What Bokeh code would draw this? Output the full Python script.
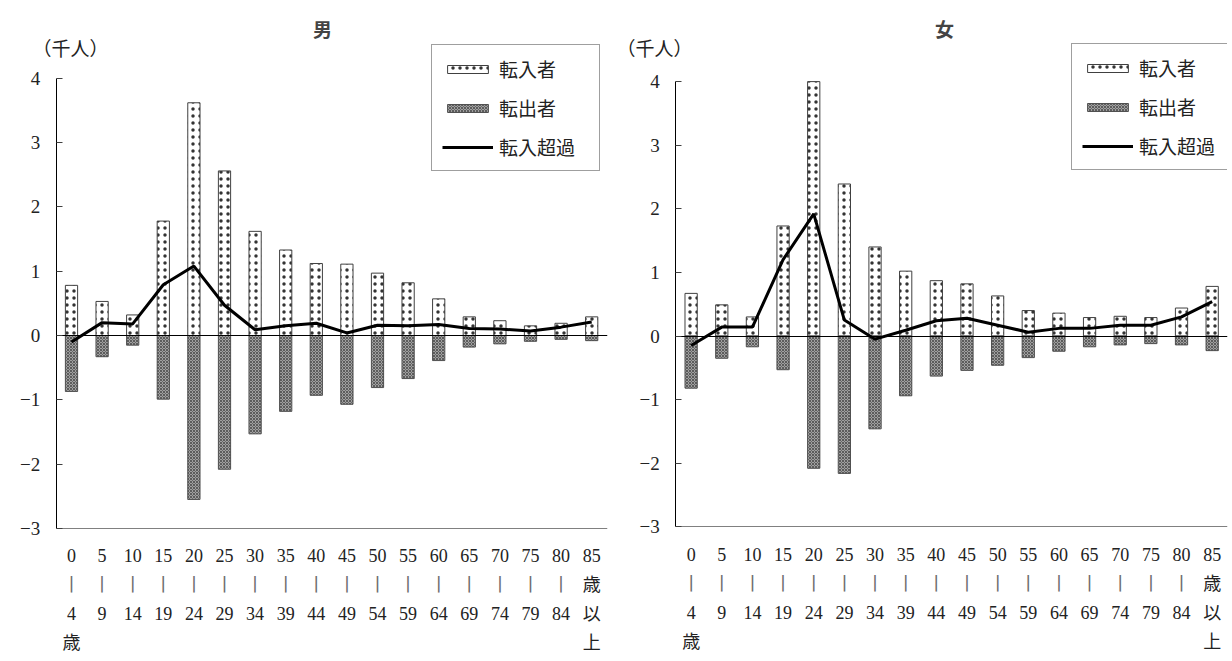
from bokeh.plotting import figure
from bokeh.models import (ColumnDataSource, Range1d, FixedTicker, LinearAxis,
                          Label, Legend, LegendItem)
from bokeh.layouts import row
from bokeh.embed import file_html
from bokeh.resources import INLINE

# Age groups (five-year classes), written as stacked tick labels
age_labels = [
    "0\n丨\n4\n歳", "5\n丨\n9", "10\n丨\n14", "15\n丨\n19", "20\n丨\n24", "25\n丨\n29",
    "30\n丨\n34", "35\n丨\n39", "40\n丨\n44", "45\n丨\n49", "50\n丨\n54", "55\n丨\n59",
    "60\n丨\n64", "65\n丨\n69", "70\n丨\n74", "75\n丨\n79", "80\n丨\n84", "85\n歳\n以\n上",
]
y_ticks = [-3, -2, -1, 0, 1, 2, 3, 4]

# Male (thousand persons)
male_in = [0.78, 0.53, 0.32, 1.78, 3.62, 2.56, 1.62, 1.33, 1.12, 1.11, 0.97, 0.82,
           0.57, 0.29, 0.23, 0.15, 0.19, 0.29]
male_out = [-0.87, -0.33, -0.15, -0.99, -2.55, -2.08, -1.53, -1.18, -0.93, -1.07, -0.81, -0.67,
            -0.39, -0.18, -0.13, -0.09, -0.06, -0.08]
male_net = [-0.10, 0.20, 0.18, 0.79, 1.08, 0.47, 0.09, 0.15, 0.19, 0.04, 0.16, 0.15,
            0.17, 0.11, 0.10, 0.07, 0.13, 0.21]

# Female (thousand persons)
female_in = [0.67, 0.49, 0.30, 1.73, 4.00, 2.39, 1.40, 1.02, 0.87, 0.82, 0.63, 0.40,
             0.36, 0.29, 0.31, 0.29, 0.44, 0.78]
female_out = [-0.82, -0.35, -0.17, -0.53, -2.08, -2.16, -1.46, -0.94, -0.63, -0.54, -0.46, -0.34,
              -0.24, -0.17, -0.14, -0.12, -0.14, -0.23]
female_net = [-0.15, 0.14, 0.14, 1.20, 1.92, 0.25, -0.05, 0.09, 0.24, 0.28, 0.17, 0.06,
              0.12, 0.12, 0.17, 0.17, 0.30, 0.54]

SERIF = "'Liberation Serif', 'Noto Sans CJK JP'"
SANS = "Noto Sans CJK JP"
H = 661
FRAME_TOP = 10   # the frame spans nearly the whole figure; axis lines are bounded
N = len(age_labels)
pos = list(range(N))
SEP = "丨"
BLANK = "\u3000"

# the range separators are drawn in grey by a second axis, the rest in dark text
text_labels = {i: s.replace(SEP, BLANK) for i, s in zip(pos, age_labels)}
sep_labels = {i: (BLANK + "\n" + SEP if SEP in s else BLANK) for i, s in zip(pos, age_labels)}


def style_age_axis(ax, color):
    ax.major_tick_line_color = None
    ax.minor_tick_line_color = None
    ax.major_label_standoff = 12
    ax.major_label_text_font = SERIF
    ax.major_label_text_font_size = "18px"
    ax.major_label_text_line_height = 1.45
    ax.major_label_text_color = color


def make_panel(title, vin, vout, vnet, right, cat_left_px, cat_w, zero_px, unit_px,
               legend_xy, title_x, unit_x):
    # axes are pinned inside the frame: the value axis at the left edge of the
    # first age class, the age axis at -3
    y_top = (zero_px - FRAME_TOP) / unit_px
    y_bottom = -(H - zero_px) / unit_px
    frame_w = 616 - right
    x_start = -0.5 - cat_left_px / cat_w
    x_end = x_start + frame_w / cat_w

    src = ColumnDataSource(dict(x=pos, vin=vin, vout=vout, vnet=vnet))
    p = figure(width=616, height=H, x_range=Range1d(x_start, x_end),
               y_range=Range1d(y_bottom, y_top), output_backend="svg", toolbar_location=None,
               x_axis_type=None, y_axis_type=None,
               min_border_left=0, min_border_right=right, min_border_top=FRAME_TOP,
               min_border_bottom=0)
    p.background_fill_color = "white"
    p.border_fill_color = "white"
    p.outline_line_color = None
    p.grid.grid_line_color = None

    r_in = p.vbar(x="x", top="vin", bottom=0, width=0.4, source=src,
                  fill_color="white", line_color="#404040", line_width=1,
                  hatch_pattern="dot", hatch_scale=7, hatch_color="#333333", hatch_weight=1)
    r_out = p.vbar(x="x", top=0, bottom="vout", width=0.4, source=src,
                   fill_color="#a0a0a0", line_color="#505050", line_width=1,
                   hatch_pattern="diagonal_cross", hatch_scale=3, hatch_color="#5c5c5c",
                   hatch_weight=1)

    # value axis
    yax = LinearAxis(ticker=FixedTicker(ticks=y_ticks), bounds=(-3, 4),
                     fixed_location=-0.5)
    yax.major_tick_in = 6
    yax.major_tick_out = 0
    yax.minor_tick_line_color = None
    yax.axis_line_color = "black"
    yax.major_tick_line_color = "#404040"
    yax.major_label_standoff = 16
    yax.major_label_text_font = SERIF
    yax.major_label_text_font_size = "19px"
    yax.major_label_text_color = "#222222"
    p.add_layout(yax, "left")

    # age axis along -3
    xax = LinearAxis(ticker=FixedTicker(ticks=pos), bounds=(-0.5, N - 0.5), fixed_location=-3,
                     major_label_overrides=text_labels)
    style_age_axis(xax, "#222222")
    xax.axis_line_color = "#808080"
    p.add_layout(xax, "below")

    sax = LinearAxis(ticker=FixedTicker(ticks=pos), bounds=(-0.5, N - 0.5), fixed_location=-3,
                     major_label_overrides=sep_labels)
    style_age_axis(sax, "#6e6e6e")
    sax.axis_line_color = None
    p.add_layout(sax, "below")

    # zero line across the age classes
    zax = LinearAxis(ticker=FixedTicker(ticks=[]), bounds=(-0.5, N - 0.5), fixed_location=0)
    zax.major_tick_line_color = None
    zax.minor_tick_line_color = None
    zax.major_label_text_font_size = "0px"
    zax.axis_line_color = "black"
    zax.axis_line_width = 1
    p.add_layout(zax, "below")

    r_net = p.line(x="x", y="vnet", source=src, line_color="black", line_width=3)

    p.add_layout(Label(x=title_x, y=(zero_px - 28) / unit_px, x_units="screen",
                       text=title, text_align="center", text_baseline="middle",
                       text_font=SANS, text_font_style="bold", text_font_size="19px"))
    p.add_layout(Label(x=unit_x, y=(zero_px - 47) / unit_px, x_units="screen",
                       text="（千人）", text_align="left", text_baseline="middle",
                       text_font=SANS, text_font_size="19px", text_color="#222222"))

    legend = Legend(items=[LegendItem(label="転入者", renderers=[r_in]),
                           LegendItem(label="転出者", renderers=[r_out]),
                           LegendItem(label="転入超過", renderers=[r_net])],
                    location=legend_xy, glyph_width=51, glyph_height=10, label_height=26,
                    label_width=90, spacing=12, padding=10, label_standoff=6, margin=0,
                    border_line_color="#404040", border_line_width=1,
                    background_fill_color="white", background_fill_alpha=1,
                    label_text_font=SANS, label_text_font_size="19px",
                    label_text_color="#222222")
    p.add_layout(legend)
    return p


p_m = make_panel("男", male_in, male_out, male_net, right=9, cat_left_px=55.7, cat_w=30.6,
                 zero_px=335, unit_px=64.29, legend_xy=(431, 490), title_x=322, unit_x=32)
p_f = make_panel("女", female_in, female_out, female_net, right=5, cat_left_px=59.3, cat_w=30.65,
                 zero_px=335.5, unit_px=63.6, legend_xy=(455, 491), title_x=328, unit_x=0)

layout = row(p_m, p_f, spacing=0)
open("out.html", "w").write(file_html(layout, INLINE))
